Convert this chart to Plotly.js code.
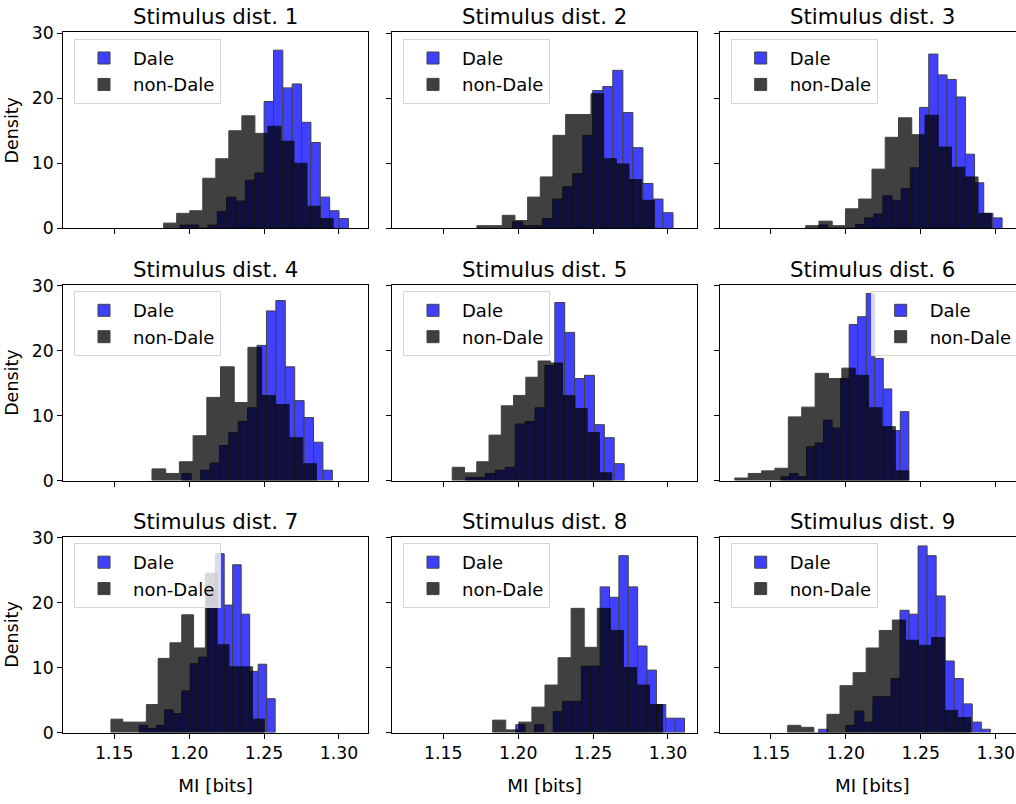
<!DOCTYPE html>
<html>
<head>
<meta charset="utf-8">
<script src="https://cdn.plot.ly/plotly-3.0.1.min.js"></script>
<style>
html, body { margin: 0; padding: 0; overflow: hidden; background: #fff; }
#chart { width: 1026px; height: 804px; }
</style>
</head>
<body>
<div id="chart"></div>
<script>
// ---------------- data ----------------
const panelTitles = ["Stimulus dist. 1","Stimulus dist. 2","Stimulus dist. 3",
                     "Stimulus dist. 4","Stimulus dist. 5","Stimulus dist. 6",
                     "Stimulus dist. 7","Stimulus dist. 8","Stimulus dist. 9"];
const seriesNames = ["Dale", "non-Dale"];
const xTickVals = [1.15, 1.20, 1.25, 1.30];
const yTickVals = [0, 10, 20, 30];

// histogram bin start (MI, bits) and bin width for each panel
const daleBinStart    = [1.1938, 1.1962, 1.1819, 1.1951, 1.1650, 1.1567, 1.1667, 1.1984, 1.1819];
const daleBinWidth    = [0.00625, 0.00670, 0.00612, 0.00628, 0.00661, 0.00569, 0.00567, 0.00626, 0.00603];
const nonDaleBinStart = [1.1830, 1.1725, 1.1732, 1.1752, 1.1560, 1.1259, 1.1478, 1.1830, 1.1612];
const nonDaleBinWidth = [0.00870, 0.00846, 0.00885, 0.00915, 0.00819, 0.00893, 0.00788, 0.00873, 0.00873];

// densities per bin
const dale1 = [0.5,0.5,0,0.5,2.6,4.8,4.2,7.4,8.5,19.5,27.4,21.6,22.2,16.3,13.2,4.8,2.7,1.5];
const dale2 = [1.0,0.4,0.4,1.5,4.5,6.4,8.4,14.3,21.2,21.8,24.3,17.8,12.4,6.9,4.5,2.4];
const dale3 = [0.5,0,0,0,0.6,1.6,2.2,5.0,4.3,6.1,9.3,18.6,26.8,23.6,22.9,20.2,11.4,7.0,2.3,1.6];
const dale4 = [1.1,0,1.6,2.7,5.4,7.4,9.1,11.2,20.8,26.1,27.7,17.5,12.3,9.7,5.9,1.6];
const dale5 = [0.5,0.5,1.1,1.6,2.05,8.7,9.1,11.2,17.7,27.4,22.8,15.7,16.2,8.6,6.6,2.6];
const dale6 = [0.6,1.1,0.6,5.2,5.8,9.3,8.1,15.7,24.0,25.2,28.8,18.8,14.1,7.7,10.6];
const dale7 = [1.1,0.6,1.1,3.5,2.9,6.4,10.6,11.6,22.0,27.5,19.6,25.8,18.2,9.4,10.5,5.2];
const dale8 = [1.2,0,1.2,0,3.2,4.8,4.8,10.2,10.2,22.4,20.8,27.2,22.4,13.3,9.6,4.3,2.2,2.2];
const dale9 = [0.5,0,0,1.1,3.3,1.6,5.5,5.5,8.3,18.8,18.2,28.7,27.2,21.0,11.0,8.3,4.4,1.6,0.5];

const nonDale1 = [0.8,2.3,2.7,7.7,10.7,15.0,17.3,14.6,15.7,13.4,10.0,3.4,1.5];
const nonDale2 = [0.4,0.4,2.0,1.2,4.8,7.9,14.3,17.5,17.5,20.7,10.7,9.9,7.5,4.3];
const nonDale3 = [0.4,1.1,0.4,3.0,4.5,9.1,14.0,17.0,14.4,17.4,12.5,9.4,7.9,2.3];
const nonDale4 = [1.8,1.1,2.9,6.9,12.8,17.5,12.0,20.5,13.1,11.7,6.6,2.6];
const nonDale5 = [2.05,1.2,2.9,7.0,11.5,13.1,15.9,18.4,18.1,13.1,11.1,7.4,1.2];
const nonDale6 = [0.4,1.1,1.5,1.9,9.8,11.3,16.5,15.7,17.3,16.2,11.2,8.3,1.5];
const nonDale7 = [2.05,1.6,1.6,4.3,11.4,13.8,18.1,13.0,24.5,13.5,10.1,10.1,2.05];
const nonDale8 = [1.9,0.4,1.6,3.9,7.3,11.5,19.1,13.1,19.1,15.7,10.0,7.3,4.3];
const nonDale9 = [1.1,0.8,0,2.8,7.2,9.2,13.0,15.7,17.3,14.2,13.4,14.6,3.4,2.3];

const daleDensities    = [dale1, dale2, dale3, dale4, dale5, dale6, dale7, dale8, dale9];
const nonDaleDensities = [nonDale1, nonDale2, nonDale3, nonDale4, nonDale5, nonDale6, nonDale7, nonDale8, nonDale9];

// ---------------- layout geometry (pixels) ----------------
const W = 1026, H = 804;
const colLeft = [63.3, 392.3, 720.0], axW = 304.7;
const rowTop = [32.3, 284.6, 536.5], axH = 196;
const xRange = [1.116, 1.3194], yRange = [0, 30.15];
const FONT = "DejaVu Sans, Liberation Sans, sans-serif";

function centers(start, w, n) {
  const c = [];
  for (let i = 0; i < n; i++) c.push(start + (i + 0.5) * w);
  return c;
}

const traces = [];
const layout = {
  width: W, height: H,
  margin: {l: 0, r: 0, t: 0, b: 0},
  paper_bgcolor: "#fff", plot_bgcolor: "#fff",
  font: {family: FONT, color: "#000", size: 17.3},
  barmode: "overlay",
  bargap: 0,
  annotations: []
};

for (let k = 0; k < 9; k++) {
  const r = Math.floor(k / 3), c = k % 3;
  const s = k === 0 ? "" : String(k + 1);
  const legName = k === 0 ? "legend" : "legend" + (k + 1);
  const dd = daleDensities[k], nd = nonDaleDensities[k];

  traces.push({
    type: "bar", name: seriesNames[0],
    x: centers(daleBinStart[k], daleBinWidth[k], dd.length), y: dd,
    width: daleBinWidth[k],
    marker: {color: "rgb(0,0,255)", line: {color: "#000", width: 1}},
    opacity: 0.75,
    xaxis: "x" + s, yaxis: "y" + s, legend: legName, showlegend: true,
    hoverinfo: "skip"
  });
  traces.push({
    type: "bar", name: seriesNames[1],
    x: centers(nonDaleBinStart[k], nonDaleBinWidth[k], nd.length), y: nd,
    width: nonDaleBinWidth[k],
    marker: {color: "rgb(0,0,0)", line: {color: "#000", width: 1}},
    opacity: 0.75,
    xaxis: "x" + s, yaxis: "y" + s, legend: legName, showlegend: true,
    hoverinfo: "skip"
  });

  const x0 = colLeft[c] / W, x1 = (colLeft[c] + axW) / W;
  const y1 = 1 - rowTop[r] / H, y0 = 1 - (rowTop[r] + axH) / H;

  layout["xaxis" + s] = {
    domain: [x0, Math.min(1, x1)], range: xRange, anchor: "y" + s,
    showline: true, mirror: true, linecolor: "#000", linewidth: 1,
    ticks: "outside", ticklen: 5, tickcolor: "#000", tickwidth: 1,
    tickvals: xTickVals, tickformat: ".2f",
    showticklabels: r === 2, tickfont: {size: 17.3},
    showgrid: false, zeroline: false,
    title: r === 2 ? {text: "MI [bits]", font: {size: 18.3}, standoff: 16} : {text: ""}
  };
  layout["yaxis" + s] = {
    domain: [y0, y1], range: yRange, anchor: "x" + s,
    showline: true, mirror: true, linecolor: "#000", linewidth: 1,
    ticks: "outside", ticklen: 5, tickcolor: "#000", tickwidth: 1,
    tickvals: yTickVals,
    showticklabels: c === 0, tickfont: {size: 17.3},
    showgrid: false, zeroline: false,
    title: c === 0 ? {text: "Density", font: {size: 17.5}, standoff: 8} : {text: ""}
  };

  const upperRight = (k === 5);
  layout[legName] = {
    x: upperRight ? (colLeft[c] + axW - 7) / W : (colLeft[c] + 10.7) / W,
    xanchor: upperRight ? "right" : "left",
    y: 1 - (rowTop[r] + 6.5) / H, yanchor: "top",
    bgcolor: "rgba(255,255,255,0.8)", bordercolor: "#d6d6d6", borderwidth: 1,
    font: {size: 18, family: FONT, color: "#000"},
    traceorder: "normal", tracegroupgap: 0, itemwidth: 48
  };

  layout.annotations.push({
    text: panelTitles[k], xref: "paper", yref: "paper",
    x: (colLeft[c] + axW / 2) / W, y: y1, xanchor: "center", yanchor: "bottom",
    yshift: 1, showarrow: false, font: {size: 21.3, family: FONT, color: "#000"}
  });
}

Plotly.newPlot("chart", traces, layout, {staticPlot: true, displayModeBar: false});
</script>
</body>
</html>
